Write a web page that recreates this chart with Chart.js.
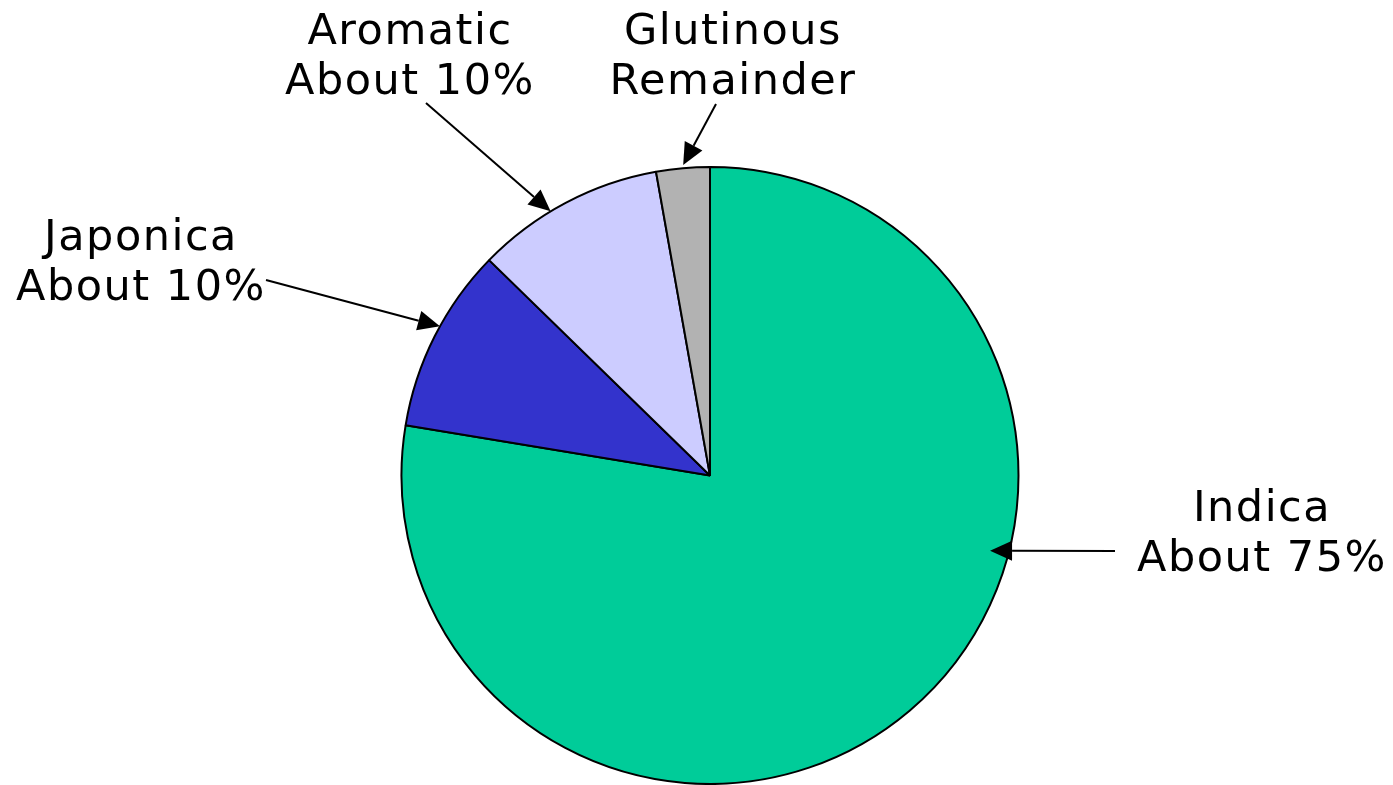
<!DOCTYPE html>
<html>
<head>
<meta charset="utf-8">
<script src="https://cdn.jsdelivr.net/npm/chart.js@4.4.1/dist/chart.umd.min.js"></script>
<style>
  html, body { margin: 0; padding: 0; background: #ffffff; }
  #wrap { width: 1393px; height: 785px; position: relative; }
</style>
</head>
<body>
<div id="wrap"><canvas id="c" width="1393" height="785"></canvas></div>
<script>
// ---- data ----
const categories = ["Indica", "Japonica", "Aromatic", "Glutinous"];
const shares = [77.6, 9.7, 9.9, 2.8];
const sliceColors = ["#00CC99", "#3333CC", "#CCCCFF", "#B2B2B2"];
const calloutLines = [
  ["Indica", "About 75%"],
  ["Japonica", "About 10%"],
  ["Aromatic", "About 10%"],
  ["Glutinous", "Remainder"]
];

// ---- callout layout (text placement, arrow tail, arrow tip within slice) ----
const calloutLayout = [
  { cx: 1261, y0: 521, tail: [1115, 551], tipFrac: 0.376, tipR: 0.94 },
  { cx: 140,  y0: 250, tail: [266, 280],  tipFrac: 0.56,  tipR: 1.0 },
  { cx: 409,  y0: 44,  tail: [426, 103],  tipFrac: 0.41,  tipR: 1.0 },
  { cx: 732,  y0: 44,  tail: [716, 104],  tipFrac: 0.51,  tipR: 1.01 }
];

const calloutPlugin = {
  id: 'callouts',
  afterDraw(chart) {
    const ctx = chart.ctx;
    const meta = chart.getDatasetMeta(0);
    ctx.save();
    ctx.fillStyle = '#000';
    ctx.strokeStyle = '#000';
    ctx.font = '43px "DejaVu Sans", Verdana, sans-serif';
    ctx.letterSpacing = '1.5px';
    ctx.textAlign = 'center';
    ctx.textBaseline = 'alphabetic';
    meta.data.forEach((arc, i) => {
      const L = calloutLayout[i];
      calloutLines[i].forEach((t, k) => ctx.fillText(t, L.cx + 1, L.y0 + k * 50));
      const a = arc.startAngle + (arc.endAngle - arc.startAngle) * L.tipFrac;
      const r = arc.outerRadius * L.tipR;
      const tx = arc.x + Math.cos(a) * r;
      const ty = arc.y + Math.sin(a) * r;
      const [sx, sy] = L.tail;
      const ang = Math.atan2(ty - sy, tx - sx);
      const headLen = 22, headW = 10;
      const bx = tx - Math.cos(ang) * headLen, by = ty - Math.sin(ang) * headLen;
      ctx.lineWidth = 2;
      ctx.beginPath();
      ctx.moveTo(sx, sy);
      ctx.lineTo(bx, by);
      ctx.stroke();
      ctx.beginPath();
      ctx.moveTo(tx, ty);
      ctx.lineTo(bx + Math.sin(ang) * headW, by - Math.cos(ang) * headW);
      ctx.lineTo(bx - Math.sin(ang) * headW, by + Math.cos(ang) * headW);
      ctx.closePath();
      ctx.fill();
    });
    ctx.restore();
  }
};

new Chart(document.getElementById('c'), {
  type: 'pie',
  data: {
    labels: categories,
    datasets: [{
      data: shares,
      backgroundColor: sliceColors,
      borderColor: '#000000',
      borderWidth: 2
    }]
  },
  options: {
    responsive: false,
    animation: false,
    rotation: 0,
    layout: { padding: { top: 166, bottom: 0, left: 310, right: 283 } },
    plugins: {
      legend: { display: false },
      tooltip: { enabled: false },
      title: { display: false }
    }
  },
  plugins: [calloutPlugin]
});
</script>
</body>
</html>
